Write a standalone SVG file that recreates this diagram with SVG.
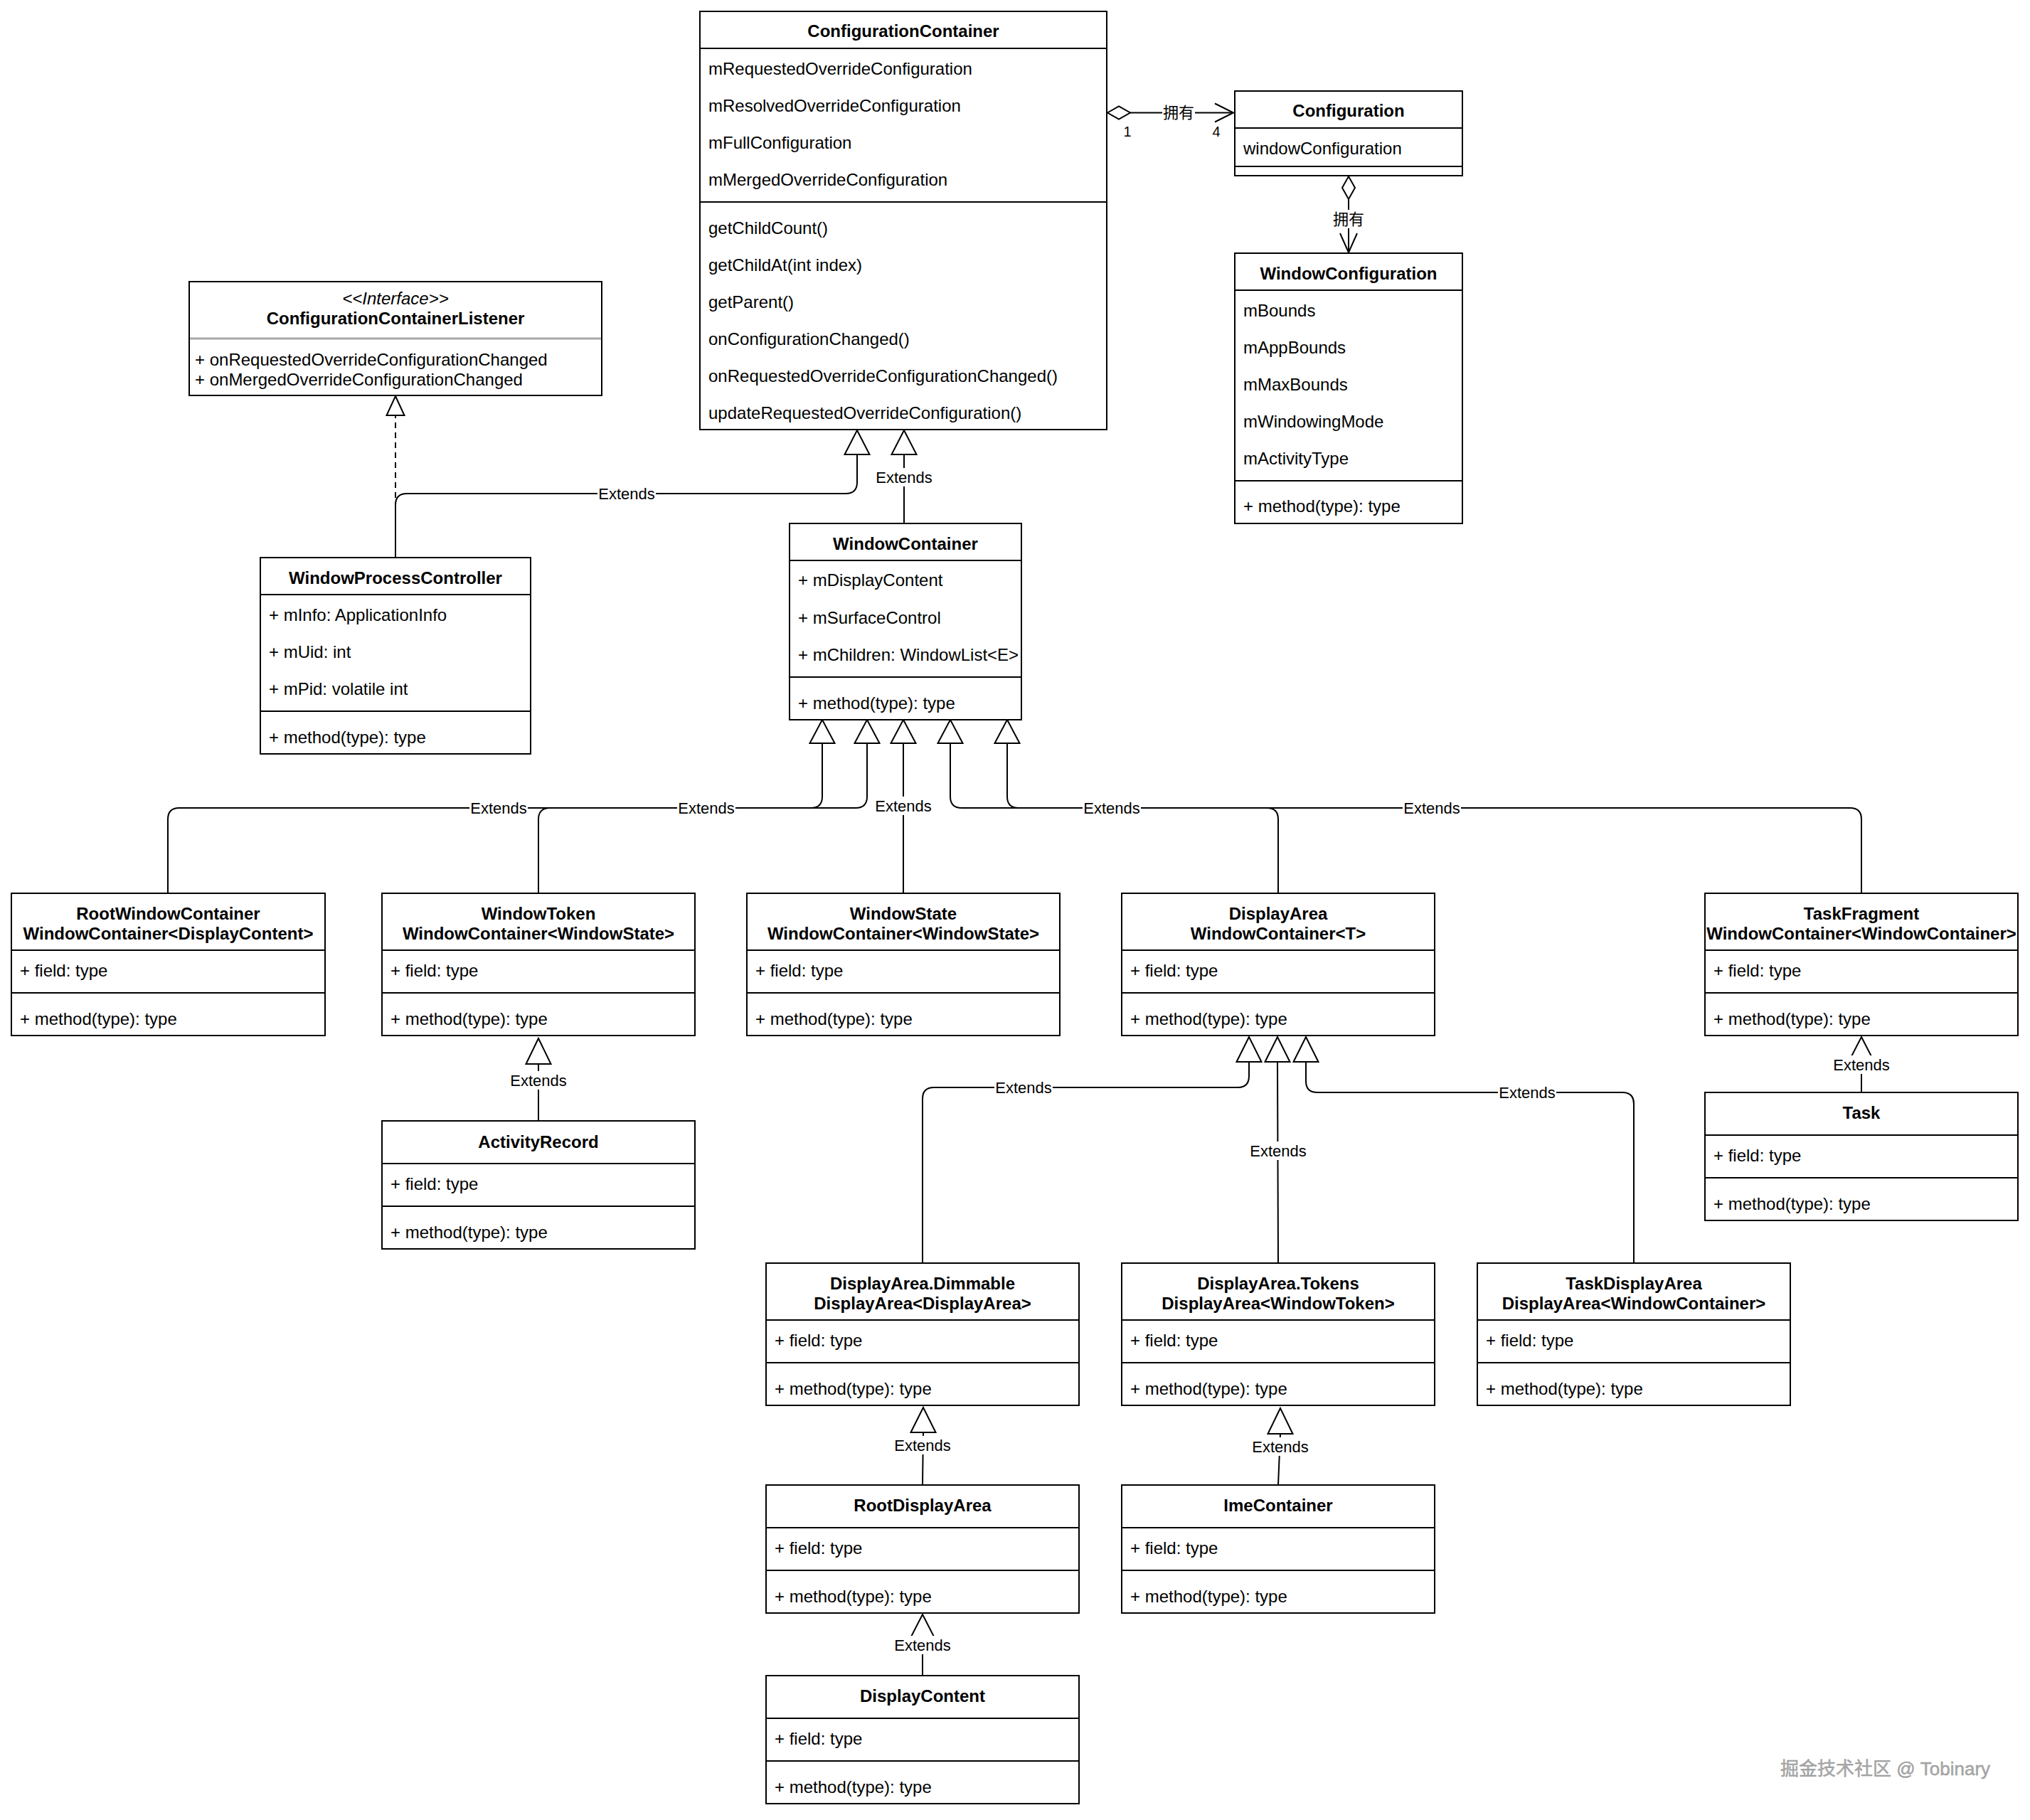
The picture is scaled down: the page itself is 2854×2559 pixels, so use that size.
<svg xmlns="http://www.w3.org/2000/svg" width="2854" height="2559" viewBox="0 0 2854 2559">
<style>
.bg{fill:#fff}
.box{fill:#fff;stroke:#000;stroke-width:2}
.ln{stroke:#000;stroke-width:2;fill:none}
.t{font-family:"Liberation Sans",Arial,"Noto Sans CJK SC",sans-serif;font-size:24px;fill:#000;dominant-baseline:central}
.h{font-weight:bold;text-anchor:middle}
.i{font-style:italic;text-anchor:middle}
.edge{fill:none;stroke:#000;stroke-width:2}
.dash{stroke-dasharray:8 6}
.tri{fill:#fff;stroke:#000;stroke-width:2;stroke-linejoin:miter}
.lb{font-family:"Liberation Sans",Arial,"Noto Sans CJK SC",sans-serif;font-size:22px;fill:#000;text-anchor:middle;dominant-baseline:central}
.lbg{fill:#fff}
.wm{font-family:"Liberation Sans","Noto Sans CJK SC",sans-serif;font-size:26px;fill:#ababab;stroke:#8a8a8a;stroke-width:0.4;dominant-baseline:central}
</style>
<rect class="bg" x="0" y="0" width="2854" height="2559"/>

<g id="connectors">
  <line class="edge" x1="1589" y1="158.5" x2="1734" y2="158.5"/>
  <polygon class="tri" points="1557,158.5 1573,149.5 1589,158.5 1573,167.5"/>
  <polyline class="edge" points="1708,145.5 1734,158.5 1708,171.5"/>
  <rect class="lbg" x="1634" y="146" width="46" height="26"/>
  <text class="lb" x="1657" y="158.5">拥有</text>
  <text class="lb" x="1585" y="185" style="font-size:20px">1</text>
  <text class="lb" x="1710" y="185" style="font-size:20px">4</text>

  <line class="edge" x1="1896" y1="280" x2="1896" y2="355"/>
  <polygon class="tri" points="1896,248 1905,264 1896,280 1887,264"/>
  <polyline class="edge" points="1884,328 1896,355 1908,328"/>
  <rect class="lbg" x="1873" y="295" width="46" height="26"/>
  <text class="lb" x="1896" y="308">拥有</text>

  <line class="edge dash" x1="556" y1="784" x2="556" y2="584"/>
  <polygon class="tri" points="556,557 543.5,584 568.5,584"/>

  <path class="edge" d="M556,784 V710 Q556,694 572,694 H1189 Q1205,694 1205,678 V639"/>
  <polygon class="tri" points="1205,605 1187.5,639 1222.5,639"/>
  <rect class="lbg" x="840" y="681" width="82" height="26"/>
  <text class="lb" x="881" y="694">Extends</text>

  <line class="edge" x1="1271" y1="736" x2="1271" y2="639"/>
  <polygon class="tri" points="1271,605 1253.5,639 1288.5,639"/>
  <rect class="lbg" x="1230" y="658" width="82" height="26"/>
  <text class="lb" x="1271" y="671">Extends</text>

  <path class="edge" d="M236,1256 V1152 Q236,1136 252,1136 H1140 Q1156,1136 1156,1120 V1045"/>
  <path class="edge" d="M757,1256 V1152 Q757,1136 773,1136 H1203 Q1219,1136 1219,1120 V1045"/>
  <path class="edge" d="M1270,1256 V1045"/>
  <path class="edge" d="M1797,1256 V1152 Q1797,1136 1781,1136 H1352 Q1336,1136 1336,1120 V1045"/>
  <path class="edge" d="M2617,1256 V1152 Q2617,1136 2601,1136 H1432 Q1416,1136 1416,1120 V1045"/>
  <polygon class="tri" points="1156,1012 1138.5,1045 1173.5,1045"/>
  <polygon class="tri" points="1219,1012 1201.5,1045 1236.5,1045"/>
  <polygon class="tri" points="1270,1012 1252.5,1045 1287.5,1045"/>
  <polygon class="tri" points="1336,1012 1318.5,1045 1353.5,1045"/>
  <polygon class="tri" points="1416,1012 1398.5,1045 1433.5,1045"/>
  <rect class="lbg" x="660" y="1123" width="82" height="26"/>
  <text class="lb" x="701" y="1136">Extends</text>
  <rect class="lbg" x="952" y="1123" width="82" height="26"/>
  <text class="lb" x="993" y="1136">Extends</text>
  <rect class="lbg" x="1229" y="1120" width="82" height="26"/>
  <text class="lb" x="1270" y="1133">Extends</text>
  <rect class="lbg" x="1522" y="1123" width="82" height="26"/>
  <text class="lb" x="1563" y="1136">Extends</text>
  <rect class="lbg" x="1972" y="1123" width="82" height="26"/>
  <text class="lb" x="2013" y="1136">Extends</text>

  <line class="edge" x1="757" y1="1576" x2="757" y2="1496"/>
  <polygon class="tri" points="757,1460 739.5,1496 774.5,1496"/>
  <rect class="lbg" x="716" y="1506" width="82" height="26"/>
  <text class="lb" x="757" y="1519">Extends</text>

  <line class="edge" x1="2617" y1="1536" x2="2617" y2="1492"/>
  <polygon class="tri" points="2617,1458 2599.5,1492 2634.5,1492"/>
  <rect class="lbg" x="2576" y="1484" width="82" height="26"/>
  <text class="lb" x="2617" y="1497">Extends</text>

  <path class="edge" d="M1297,1776 V1545 Q1297,1529 1313,1529 H1740 Q1756,1529 1756,1513 V1493"/>
  <path class="edge" d="M1797,1776 L1796,1493"/>
  <path class="edge" d="M2297,1776 V1552 Q2297,1536 2281,1536 H1852 Q1836,1536 1836,1520 V1493"/>
  <polygon class="tri" points="1756,1458 1738.5,1493 1773.5,1493"/>
  <polygon class="tri" points="1796,1458 1778.5,1493 1813.5,1493"/>
  <polygon class="tri" points="1836,1458 1818.5,1493 1853.5,1493"/>
  <rect class="lbg" x="1398" y="1516" width="82" height="26"/>
  <text class="lb" x="1439" y="1529">Extends</text>
  <rect class="lbg" x="1756" y="1605" width="82" height="26"/>
  <text class="lb" x="1797" y="1618">Extends</text>
  <rect class="lbg" x="2106" y="1523" width="82" height="26"/>
  <text class="lb" x="2147" y="1536">Extends</text>

  <line class="edge" x1="1297" y1="2088" x2="1298" y2="2014"/>
  <polygon class="tri" points="1298,1979 1280.5,2014 1315.5,2014"/>
  <rect class="lbg" x="1256" y="2019" width="82" height="26"/>
  <text class="lb" x="1297" y="2032">Extends</text>

  <line class="edge" x1="1797" y1="2088" x2="1800" y2="2016"/>
  <polygon class="tri" points="1800,1980 1782.5,2016 1817.5,2016"/>
  <rect class="lbg" x="1759" y="2021" width="82" height="26"/>
  <text class="lb" x="1800" y="2034">Extends</text>

  <line class="edge" x1="1297" y1="2356" x2="1297" y2="2304"/>
  <polygon class="tri" points="1297,2270 1279.5,2304 1314.5,2304"/>
  <rect class="lbg" x="1256" y="2300" width="82" height="26"/>
  <text class="lb" x="1297" y="2313">Extends</text>
</g>

<g id="ConfigurationContainer">
  <rect class="box" x="984" y="16" width="572" height="588"/>
  <line class="ln" x1="984" y1="68" x2="1556" y2="68"/>
  <line class="ln" x1="984" y1="284" x2="1556" y2="284"/>
  <text class="t h" x="1270" y="43">ConfigurationContainer</text>
  <text class="t" x="996" y="96">mRequestedOverrideConfiguration</text>
  <text class="t" x="996" y="148">mResolvedOverrideConfiguration</text>
  <text class="t" x="996" y="200">mFullConfiguration</text>
  <text class="t" x="996" y="252">mMergedOverrideConfiguration</text>
  <text class="t" x="996" y="320">getChildCount()</text>
  <text class="t" x="996" y="372">getChildAt(int index)</text>
  <text class="t" x="996" y="424">getParent()</text>
  <text class="t" x="996" y="476">onConfigurationChanged()</text>
  <text class="t" x="996" y="528">onRequestedOverrideConfigurationChanged()</text>
  <text class="t" x="996" y="580">updateRequestedOverrideConfiguration()</text>
</g>

<g id="Configuration">
  <rect class="box" x="1736" y="128" width="320" height="119"/>
  <line class="ln" x1="1736" y1="180" x2="2056" y2="180"/>
  <line class="ln" x1="1736" y1="234" x2="2056" y2="234"/>
  <text class="t h" x="1896" y="155">Configuration</text>
  <text class="t" x="1748" y="208">windowConfiguration</text>
</g>

<g id="WindowConfiguration">
  <rect class="box" x="1736" y="356" width="320" height="380"/>
  <line class="ln" x1="1736" y1="408" x2="2056" y2="408"/>
  <line class="ln" x1="1736" y1="676" x2="2056" y2="676"/>
  <text class="t h" x="1896" y="384">WindowConfiguration</text>
  <text class="t" x="1748" y="436">mBounds</text>
  <text class="t" x="1748" y="488">mAppBounds</text>
  <text class="t" x="1748" y="540">mMaxBounds</text>
  <text class="t" x="1748" y="592">mWindowingMode</text>
  <text class="t" x="1748" y="644">mActivityType</text>
  <text class="t" x="1748" y="711">+ method(type): type</text>
</g>

<g id="ConfigurationContainerListener">
  <rect class="box" x="266" y="396" width="580" height="160"/>
  <line x1="267" y1="476" x2="845" y2="476" stroke="#a8a8a8" stroke-width="3"/>
  <text class="t i" x="556" y="419">&lt;&lt;Interface&gt;&gt;</text>
  <text class="t h" x="556" y="447">ConfigurationContainerListener</text>
  <text class="t" x="274" y="505">+ onRequestedOverrideConfigurationChanged</text>
  <text class="t" x="274" y="533">+ onMergedOverrideConfigurationChanged</text>
</g>

<g id="WindowProcessController">
  <rect class="box" x="366" y="784" width="380" height="276"/>
  <line class="ln" x1="366" y1="836" x2="746" y2="836"/>
  <line class="ln" x1="366" y1="1000" x2="746" y2="1000"/>
  <text class="t h" x="556" y="812">WindowProcessController</text>
  <text class="t" x="378" y="864">+ mInfo: ApplicationInfo</text>
  <text class="t" x="378" y="916">+ mUid: int</text>
  <text class="t" x="378" y="968">+ mPid: volatile int</text>
  <text class="t" x="378" y="1036">+ method(type): type</text>
</g>

<g id="WindowContainer">
  <rect class="box" x="1110" y="736" width="326" height="276"/>
  <line class="ln" x1="1110" y1="788" x2="1436" y2="788"/>
  <line class="ln" x1="1110" y1="952" x2="1436" y2="952"/>
  <text class="t h" x="1273" y="764">WindowContainer</text>
  <text class="t" x="1122" y="815">+ mDisplayContent</text>
  <text class="t" x="1122" y="868">+ mSurfaceControl</text>
  <text class="t" x="1122" y="920">+ mChildren: WindowList&lt;E&gt;</text>
  <text class="t" x="1122" y="988">+ method(type): type</text>
</g>

<g id="RootWindowContainer">
  <rect class="box" x="16" y="1256" width="441" height="200"/>
  <line class="ln" x1="16" y1="1336" x2="457" y2="1336"/>
  <line class="ln" x1="16" y1="1396" x2="457" y2="1396"/>
  <text class="t h" x="236.5" y="1284">RootWindowContainer</text>
  <text class="t h" x="236.5" y="1312">WindowContainer&lt;DisplayContent&gt;</text>
  <text class="t" x="28" y="1364">+ field: type</text>
  <text class="t" x="28" y="1432">+ method(type): type</text>
</g>

<g id="WindowToken">
  <rect class="box" x="537" y="1256" width="440" height="200"/>
  <line class="ln" x1="537" y1="1336" x2="977" y2="1336"/>
  <line class="ln" x1="537" y1="1396" x2="977" y2="1396"/>
  <text class="t h" x="757" y="1284">WindowToken</text>
  <text class="t h" x="757" y="1312">WindowContainer&lt;WindowState&gt;</text>
  <text class="t" x="549" y="1364">+ field: type</text>
  <text class="t" x="549" y="1432">+ method(type): type</text>
</g>

<g id="WindowState">
  <rect class="box" x="1050" y="1256" width="440" height="200"/>
  <line class="ln" x1="1050" y1="1336" x2="1490" y2="1336"/>
  <line class="ln" x1="1050" y1="1396" x2="1490" y2="1396"/>
  <text class="t h" x="1270" y="1284">WindowState</text>
  <text class="t h" x="1270" y="1312">WindowContainer&lt;WindowState&gt;</text>
  <text class="t" x="1062" y="1364">+ field: type</text>
  <text class="t" x="1062" y="1432">+ method(type): type</text>
</g>

<g id="DisplayArea">
  <rect class="box" x="1577" y="1256" width="440" height="200"/>
  <line class="ln" x1="1577" y1="1336" x2="2017" y2="1336"/>
  <line class="ln" x1="1577" y1="1396" x2="2017" y2="1396"/>
  <text class="t h" x="1797" y="1284">DisplayArea</text>
  <text class="t h" x="1797" y="1312">WindowContainer&lt;T&gt;</text>
  <text class="t" x="1589" y="1364">+ field: type</text>
  <text class="t" x="1589" y="1432">+ method(type): type</text>
</g>

<g id="TaskFragment">
  <rect class="box" x="2397" y="1256" width="440" height="200"/>
  <line class="ln" x1="2397" y1="1336" x2="2837" y2="1336"/>
  <line class="ln" x1="2397" y1="1396" x2="2837" y2="1396"/>
  <text class="t h" x="2617" y="1284">TaskFragment</text>
  <text class="t h" x="2617" y="1312">WindowContainer&lt;WindowContainer&gt;</text>
  <text class="t" x="2409" y="1364">+ field: type</text>
  <text class="t" x="2409" y="1432">+ method(type): type</text>
</g>

<g id="ActivityRecord">
  <rect class="box" x="537" y="1576" width="440" height="180"/>
  <line class="ln" x1="537" y1="1636" x2="977" y2="1636"/>
  <line class="ln" x1="537" y1="1696" x2="977" y2="1696"/>
  <text class="t h" x="757" y="1605">ActivityRecord</text>
  <text class="t" x="549" y="1664">+ field: type</text>
  <text class="t" x="549" y="1732">+ method(type): type</text>
</g>

<g id="Task">
  <rect class="box" x="2397" y="1536" width="440" height="180"/>
  <line class="ln" x1="2397" y1="1596" x2="2837" y2="1596"/>
  <line class="ln" x1="2397" y1="1656" x2="2837" y2="1656"/>
  <text class="t h" x="2617" y="1564">Task</text>
  <text class="t" x="2409" y="1624">+ field: type</text>
  <text class="t" x="2409" y="1692">+ method(type): type</text>
</g>

<g id="DisplayArea.Dimmable">
  <rect class="box" x="1077" y="1776" width="440" height="200"/>
  <line class="ln" x1="1077" y1="1856" x2="1517" y2="1856"/>
  <line class="ln" x1="1077" y1="1916" x2="1517" y2="1916"/>
  <text class="t h" x="1297" y="1804">DisplayArea.Dimmable</text>
  <text class="t h" x="1297" y="1832">DisplayArea&lt;DisplayArea&gt;</text>
  <text class="t" x="1089" y="1884">+ field: type</text>
  <text class="t" x="1089" y="1952">+ method(type): type</text>
</g>

<g id="DisplayArea.Tokens">
  <rect class="box" x="1577" y="1776" width="440" height="200"/>
  <line class="ln" x1="1577" y1="1856" x2="2017" y2="1856"/>
  <line class="ln" x1="1577" y1="1916" x2="2017" y2="1916"/>
  <text class="t h" x="1797" y="1804">DisplayArea.Tokens</text>
  <text class="t h" x="1797" y="1832">DisplayArea&lt;WindowToken&gt;</text>
  <text class="t" x="1589" y="1884">+ field: type</text>
  <text class="t" x="1589" y="1952">+ method(type): type</text>
</g>

<g id="TaskDisplayArea">
  <rect class="box" x="2077" y="1776" width="440" height="200"/>
  <line class="ln" x1="2077" y1="1856" x2="2517" y2="1856"/>
  <line class="ln" x1="2077" y1="1916" x2="2517" y2="1916"/>
  <text class="t h" x="2297" y="1804">TaskDisplayArea</text>
  <text class="t h" x="2297" y="1832">DisplayArea&lt;WindowContainer&gt;</text>
  <text class="t" x="2089" y="1884">+ field: type</text>
  <text class="t" x="2089" y="1952">+ method(type): type</text>
</g>

<g id="RootDisplayArea">
  <rect class="box" x="1077" y="2088" width="440" height="180"/>
  <line class="ln" x1="1077" y1="2148" x2="1517" y2="2148"/>
  <line class="ln" x1="1077" y1="2208" x2="1517" y2="2208"/>
  <text class="t h" x="1297" y="2116">RootDisplayArea</text>
  <text class="t" x="1089" y="2176">+ field: type</text>
  <text class="t" x="1089" y="2244">+ method(type): type</text>
</g>

<g id="ImeContainer">
  <rect class="box" x="1577" y="2088" width="440" height="180"/>
  <line class="ln" x1="1577" y1="2148" x2="2017" y2="2148"/>
  <line class="ln" x1="1577" y1="2208" x2="2017" y2="2208"/>
  <text class="t h" x="1797" y="2116">ImeContainer</text>
  <text class="t" x="1589" y="2176">+ field: type</text>
  <text class="t" x="1589" y="2244">+ method(type): type</text>
</g>

<g id="DisplayContent">
  <rect class="box" x="1077" y="2356" width="440" height="180"/>
  <line class="ln" x1="1077" y1="2416" x2="1517" y2="2416"/>
  <line class="ln" x1="1077" y1="2476" x2="1517" y2="2476"/>
  <text class="t h" x="1297" y="2384">DisplayContent</text>
  <text class="t" x="1089" y="2444">+ field: type</text>
  <text class="t" x="1089" y="2512">+ method(type): type</text>
</g>

<text class="wm" x="2503" y="2487">掘金技术社区 @ Tobinary</text>
</svg>
